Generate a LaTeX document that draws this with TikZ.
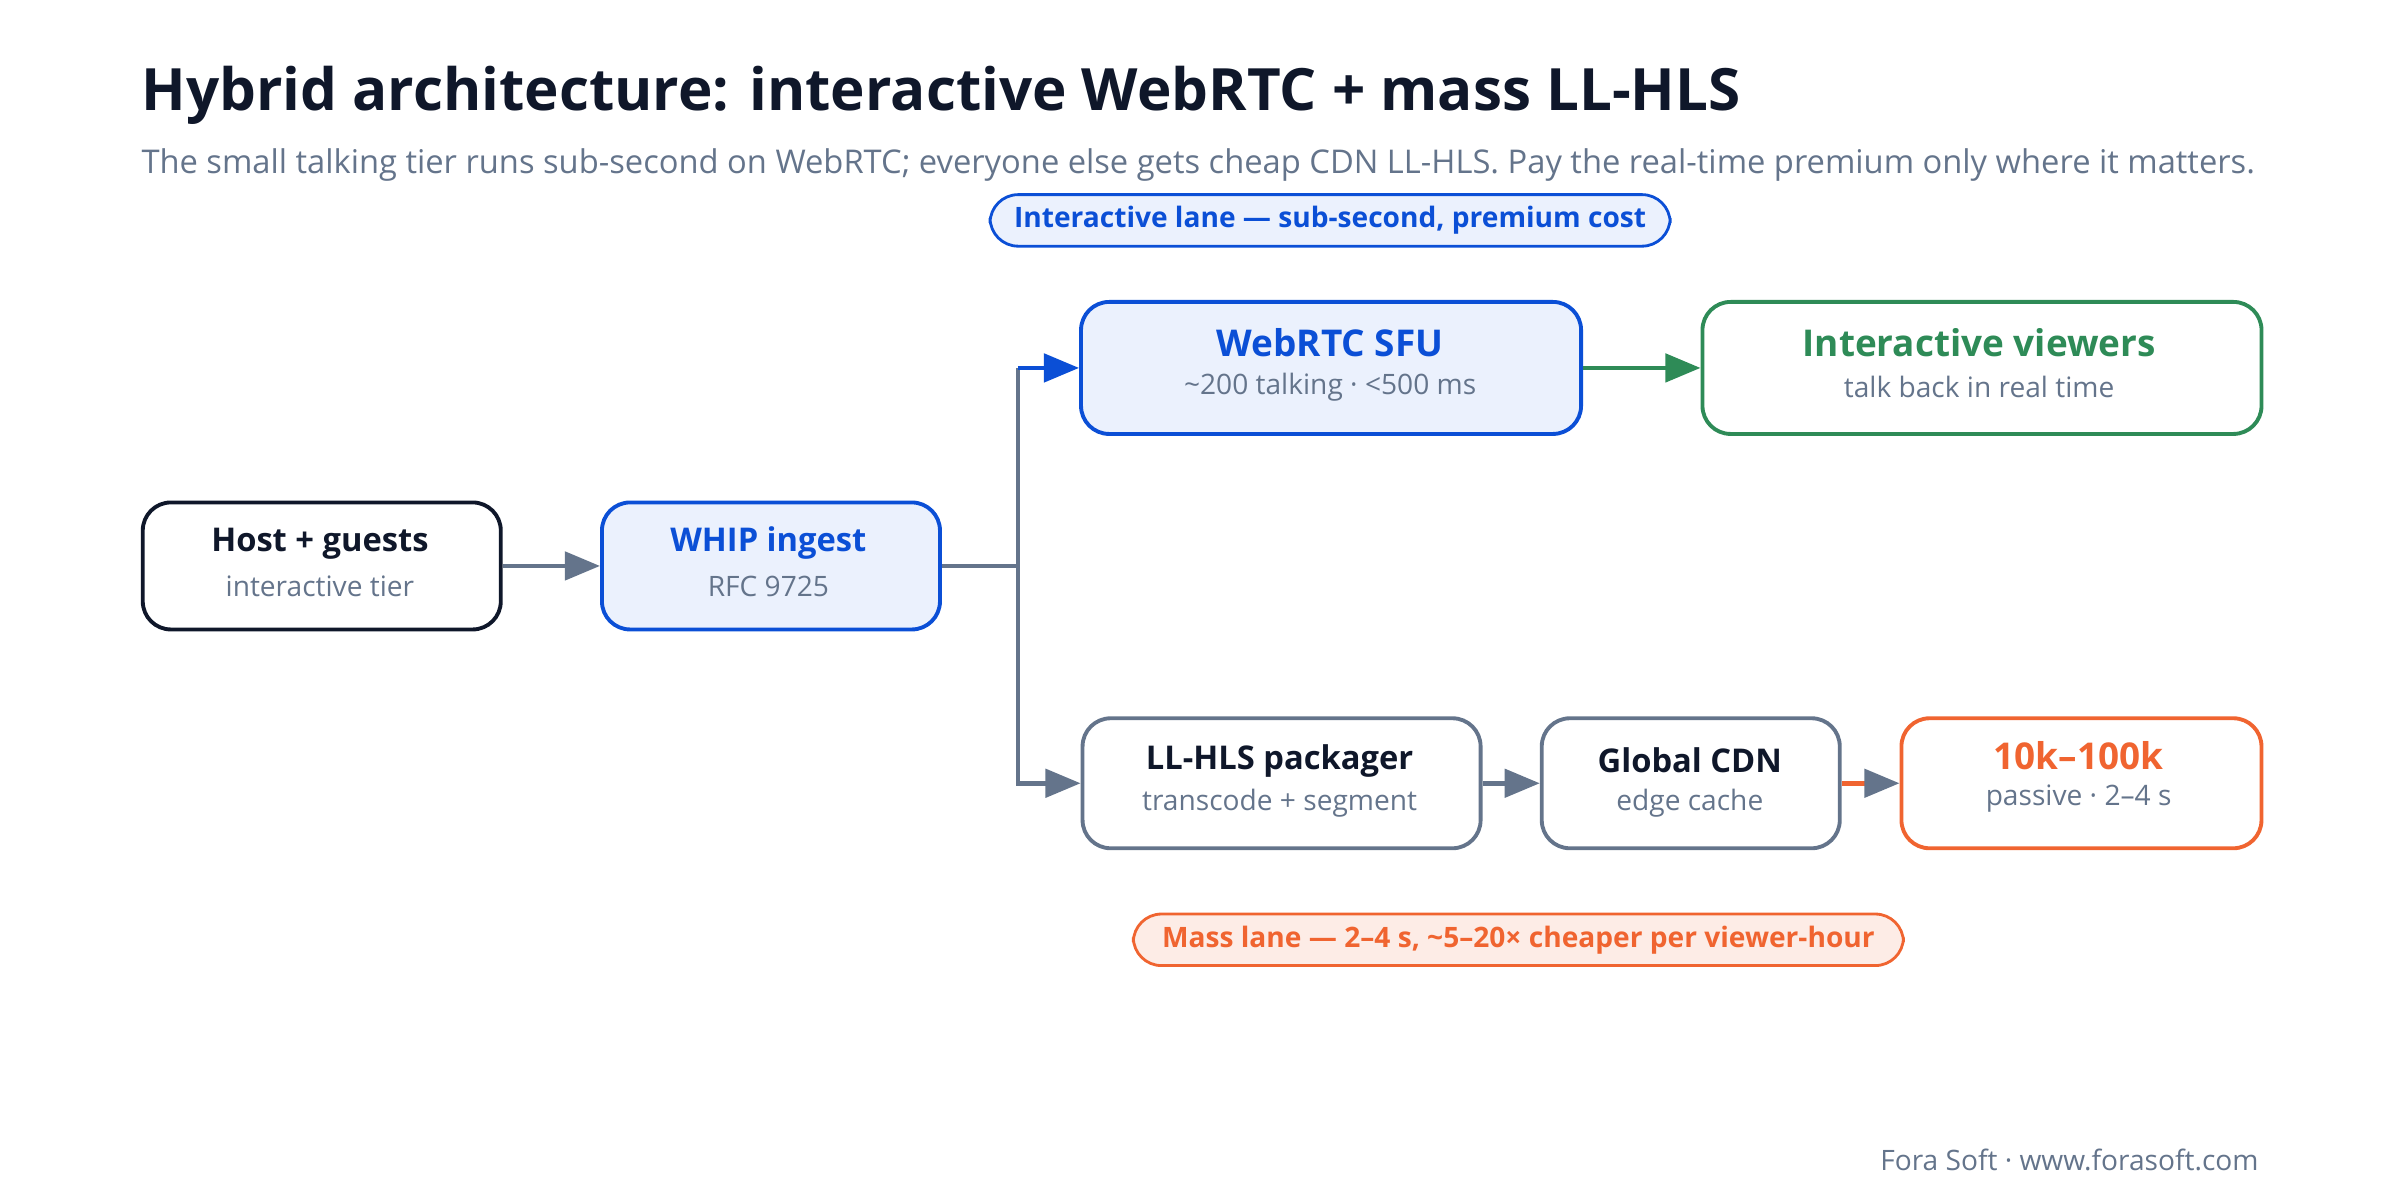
\documentclass[tikz,border=0pt]{standalone}
\usepackage{fontspec}
\setmainfont{Open Sans}
\usetikzlibrary{arrows.meta,positioning}
\definecolor{ink}{HTML}{0F172A}
\definecolor{slate}{HTML}{64748B}
\definecolor{blu}{HTML}{0B4FD6}
\definecolor{blufill}{HTML}{EBF1FD}
\definecolor{grn}{HTML}{2E8B57}
\definecolor{org}{HTML}{F06430}
\definecolor{orgfill}{HTML}{FDECE6}
\begin{document}
\begin{tikzpicture}[x=0.01531cm,y=-0.01531cm,
box/.style={%
rounded corners=8pt,
line width=1.1pt,
fill=white,
anchor=north west,
inner sep=0pt
},
pill/.style={%
rounded corners=8pt,
line width=0.8pt,
minimum height=0.49cm,
font=\bfseries\fontsize{8}{10}\selectfont
},
conn/.style={%
line width=1.3pt,
draw=slate,
-{Triangle[length=10pt,width=8pt]}
},
]
\useasboundingbox (0,0) rectangle (1568,784);
%% Title
\node[anchor=west,inner sep=0pt,text=ink,font=\bfseries\fontsize{16.6}{20}\selectfont](title)at(92,62){Hybrid architecture: interactive WebRTC + mass LL-HLS};
\node[anchor=west,inner sep=0pt,text=slate,font=\fontsize{9.3}{12}\selectfont](sub)at(92,108){The small talking tier runs sub-second on WebRTC; everyone else gets cheap CDN LL-HLS. Pay the real-time premium only where it matters.};
%% Lanes
\node[pill,draw=blu,text=blu,fill=blufill,minimum width=6.8cm](ilane)at(869,144){Interactive lane — sub-second, premium cost};
\node[pill,draw=org,text=org,fill=orgfill,minimum width=7.7cm](mlane)at(992,614){Mass lane — 2–4 s, \textasciitilde5–20× cheaper per viewer-hour};
%% Boxes
\node[box,draw=ink,minimum width=3.58cm,minimum height=1.27cm](host)at(92,327){};
\node[box,draw=blu,fill=blufill,minimum width=3.38cm,minimum height=1.27cm](whip)at(392,327){};
\node[box,draw=blu,fill=blufill,minimum width=5.0cm,minimum height=1.32cm](sfu)at(705,196){};
\node[box,draw=grn,minimum width=5.59cm,minimum height=1.32cm](view)at(1111,196){};
\node[box,draw=slate,minimum width=3.98cm,minimum height=1.3cm](pack)at(706,468){};
\node[box,draw=slate,minimum width=2.98cm,minimum height=1.3cm](cdn)at(1006,468){};
\node[box,draw=org,minimum width=3.6cm,minimum height=1.3cm](mass)at(1241,468){};
%% Box texts
\tikzset{ttl/.style={font=\bfseries\fontsize{9.3}{12}\selectfont},big/.style={font=\bfseries\fontsize{10.5}{13}\selectfont},sml/.style={text=slate,font=\fontsize{8}{10}\selectfont}}
\node[ttl,text=ink]at(209,355){Host + guests};
\node[sml]at(209,383){interactive tier};
\node[ttl,text=blu]at(502,355){WHIP ingest};
\node[sml]at(502,383){RFC 9725};
\node[big,text=blu]at(869,224){WebRTC SFU};
\node[sml]at(869,253){\textasciitilde200 talking · <500 ms};
\node[big,text=grn]at(1293,224){Interactive viewers};
\node[sml]at(1293,253){talk back in real time};
\node[ttl,text=ink]at(836,497){LL-HLS packager};
\node[sml]at(836,525){transcode + segment};
\node[ttl,text=ink]at(1104,497){Global CDN};
\node[sml]at(1104,525){edge cache};
\node[big,text=org]at(1358,494){10k–100k};
\node[sml]at(1358,522){passive · 2–4 s};
%% Connectors
\coordinate(split)at(whip.east-|665,0);
\draw[conn](host.east)--(whip.west);
\draw[line width=1.3pt,slate](whip.east)--(split)--(split|-sfu.west);
\draw[conn,draw=blu](split|-sfu.west)--(sfu.west);
\draw[conn](split)--(split|-pack.west)--(pack.west);
\draw[conn,draw=grn](sfu.east)--(view.west);
\draw[conn](pack.east)--(cdn.west);
\draw[conn,draw=org,-{Triangle[length=10pt,width=8pt,color=slate]}](cdn.east)--(mass.west);
%% Footer
\node[anchor=east,inner sep=0pt,text=slate,font=\fontsize{8}{10}\selectfont](foot)at(1476,758){Fora Soft · www.forasoft.com};
\end{tikzpicture}
\end{document}
